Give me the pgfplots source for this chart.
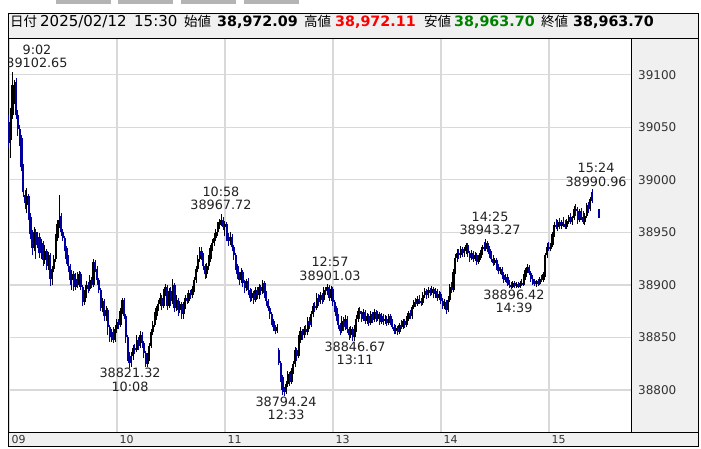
\documentclass[border=0pt]{standalone}
\usepackage{fontspec}
\setmainfont{DejaVu Sans}
\newfontfamily\jp{Noto Sans CJK JP}
\usepackage{pgfplots}
\pgfplotsset{compat=1.18}
\usepackage{pgfplotstable}

\definecolor{candown}{RGB}{0,0,160}
\definecolor{panel}{RGB}{240,240,240}
\definecolor{gridc}{RGB}{217,217,217}
\definecolor{tabc}{RGB}{180,180,180}
\definecolor{hired}{RGB}{255,0,0}
\definecolor{logreen}{RGB}{0,128,0}
\definecolor{tickc}{RGB}{51,51,51}

\tikzset{annot/.style={align=center, inner sep=0pt, text=black!87,
    font=\fontsize{12.8}{13.5}\selectfont}}

% 1-minute bars, t = trading minutes after 9:00 (lunch removed)
\pgfplotstableread{
t o h l c
0 39055 39062 39030 39035
1 39038 39068 39021 39062
2 39062 39102.65 39058 39090
3 39080 39095 39072 39088
4 39093 39097 39058 39062
5 39062 39066 39042 39048
6 39048 39052 39032 39040
7 39040 39043 39008 39012
8 39012 39015 38984 38988
9 38986 38990 38972 38978
10 38976 38992 38968 38985
11 38985 38987 38962 38965
12 38965 38968 38944 38948
13 38948 38952 38928 38935
14 38935 38955 38932 38950
15 38950 38953 38925 38938
16 38938 38950 38935 38946
17 38946 38949 38926 38930
18 38930 38944 38925 38940
19 38940 38942 38918 38924
20 38924 38938 38920 38932
21 38932 38934 38914 38918
22 38918 38931 38914 38928
23 38928 38930 38899 38906
24 38906 38918 38900 38915
25 38915 38928 38912 38925
26 38925 38948 38922 38945
27 38945 38962 38942 38958
28 38958 38986 38954 38962
29 38966 38968 38947 38950
30 38950 38953 38942 38945
31 38945 38947 38932 38935
32 38935 38937 38920 38925
33 38925 38928 38912 38918
34 38918 38920 38900 38905
35 38905 38914 38895 38910
36 38910 38913 38894 38898
37 38898 38911 38895 38906
38 38906 38912 38897 38900
39 38900 38913 38898 38910
40 38910 38912 38895 38898
41 38898 38900 38880 38884
42 38884 38895 38881 38892
43 38892 38904 38888 38900
44 38900 38903 38892 38896
45 38896 38909 38894 38905
46 38905 38908 38897 38900
47 38900 38925 38898 38922
48 38922 38924 38912 38915
49 38915 38918 38900 38905
50 38905 38907 38892 38895
51 38895 38897 38875 38878
52 38878 38888 38874 38885
53 38885 38887 38866 38870
54 38870 38880 38866 38876
55 38876 38878 38852 38860
56 38860 38862 38846 38850
57 38850 38858 38846 38855
58 38855 38860 38845 38848
59 38848 38862 38846 38858
60 38858 38868 38854 38865
61 38865 38868 38858 38862
62 38862 38878 38860 38875
63 38875 38888 38872 38886
64 38886 38888 38868 38870
65 38870 38872 38845 38850
66 38850 38852 38828 38832
67 38832 38836 38821.32 38826
68 38826 38836 38822 38832
69 38832 38843 38829 38840
70 38840 38844 38834 38838
71 38838 38852 38836 38848
72 38848 38850 38838 38842
73 38842 38856 38840 38852
74 38852 38855 38840 38845
75 38845 38847 38830 38835
76 38835 38837 38822 38825
77 38825 38835 38822 38832
78 38832 38845 38828 38842
79 38842 38858 38840 38855
80 38855 38866 38852 38862
81 38862 38874 38860 38870
82 38870 38880 38867 38878
83 38878 38886 38875 38882
84 38882 38892 38880 38888
85 38888 38890 38876 38880
86 38880 38896 38878 38892
87 38892 38901 38889 38898
88 38898 38900 38876 38880
89 38880 38897 38878 38894
90 38894 38898 38880 38885
91 38885 38906 38882 38900
92 38900 38902 38874 38878
93 38878 38890 38875 38886
94 38886 38888 38870 38876
95 38876 38885 38873 38882
96 38882 38884 38868 38872
97 38872 38884 38868 38880
98 38880 38890 38877 38888
99 38888 38892 38882 38885
100 38885 38895 38883 38892
101 38892 38895 38887 38890
102 38890 38899 38888 38896
103 38896 38908 38893 38905
104 38905 38918 38902 38915
105 38915 38928 38912 38925
106 38925 38936 38922 38932
107 38932 38936 38924 38928
108 38928 38930 38914 38918
109 38918 38920 38906 38910
110 38910 38921 38907 38918
111 38918 38928 38914 38925
112 38925 38938 38922 38935
113 38935 38944 38932 38940
114 38940 38949 38937 38945
115 38945 38953 38942 38950
116 38950 38960 38947 38957
117 38957 38963 38953 38960
118 38960 38967.72 38956 38962
119 38962 38965 38952 38955
120 38955 38961 38947 38958
121 38958 38960 38942 38946
122 38946 38949 38937 38942
123 38942 38950 38938 38946
124 38946 38948 38932 38936
125 38936 38938 38924 38928
126 38928 38930 38914 38918
127 38918 38920 38906 38910
128 38910 38912 38900 38905
129 38905 38916 38902 38912
130 38912 38914 38898 38902
131 38902 38905 38892 38897
132 38897 38906 38894 38904
133 38904 38907 38890 38895
134 38895 38897 38884 38888
135 38888 38896 38885 38892
136 38892 38894 38882 38886
137 38886 38898 38884 38895
138 38895 38898 38887 38890
139 38890 38901 38887 38898
140 38898 38900 38890 38894
141 38894 38905 38891 38902
142 38902 38904 38888 38892
143 38892 38894 38880 38885
144 38885 38887 38875 38878
145 38878 38880 38868 38872
146 38872 38874 38862 38866
147 38866 38868 38856 38860
148 38860 38862 38853 38856
149 38856 38863 38854 38860
150 38838 38840 38824 38826
151 38826 38828 38808 38812
152 38812 38814 38795 38800
153 38800 38803 38794.24 38798
154 38798 38809 38796 38806
155 38806 38818 38803 38815
156 38815 38817 38804 38808
157 38808 38821 38806 38818
158 38818 38828 38815 38825
159 38825 38841 38822 38838
160 38838 38840 38828 38832
161 38832 38852 38830 38848
162 38848 38860 38845 38856
163 38856 38858 38848 38852
164 38852 38861 38849 38858
165 38858 38862 38852 38855
166 38855 38869 38852 38866
167 38866 38869 38858 38862
168 38862 38875 38860 38872
169 38872 38883 38869 38880
170 38880 38884 38874 38878
171 38878 38892 38876 38888
172 38888 38891 38880 38884
173 38884 38893 38882 38890
174 38890 38892 38882 38886
175 38886 38898 38884 38895
176 38895 38898 38890 38894
177 38894 38901.03 38890 38898
178 38898 38900 38885 38888
179 38888 38899 38885 38896
180 38896 38898 38880 38884
181 38884 38886 38874 38878
182 38878 38880 38866 38870
183 38870 38872 38858 38862
184 38862 38864 38852 38856
185 38856 38870 38854 38866
186 38866 38869 38856 38860
187 38860 38871 38857 38868
188 38868 38870 38854 38858
189 38858 38860 38848 38852
190 38852 38861 38849 38858
191 38858 38860 38846.67 38850
192 38850 38862 38847 38858
193 38858 38871 38855 38868
194 38868 38878 38865 38875
195 38875 38879 38868 38872
196 38872 38875 38865 38868
197 38868 38877 38866 38874
198 38874 38876 38863 38866
199 38866 38873 38863 38870
200 38870 38872 38861 38864
201 38864 38875 38862 38872
202 38872 38874 38864 38867
203 38867 38877 38865 38874
204 38874 38876 38865 38868
205 38868 38875 38866 38872
206 38872 38874 38862 38865
207 38865 38873 38863 38870
208 38870 38872 38862 38866
209 38866 38871 38863 38868
210 38868 38870 38861 38864
211 38864 38872 38862 38870
212 38870 38872 38862 38865
213 38865 38868 38858 38860
214 38860 38863 38853 38856
215 38856 38862 38853 38859
216 38859 38861 38852 38855
217 38855 38864 38853 38862
218 38862 38867 38858 38860
219 38860 38868 38858 38866
220 38866 38868 38859 38862
221 38862 38870 38860 38868
222 38868 38875 38866 38873
223 38873 38876 38868 38870
224 38870 38881 38868 38879
225 38879 38886 38877 38884
226 38884 38888 38879 38882
227 38882 38889 38880 38887
228 38887 38890 38882 38885
229 38885 38888 38880 38883
230 38883 38893 38881 38890
231 38890 38897 38888 38894
232 38894 38896 38887 38890
233 38890 38898 38888 38895
234 38895 38897 38889 38892
235 38892 38899 38890 38896
236 38896 38898 38888 38891
237 38891 38897 38888 38894
238 38894 38896 38885 38888
239 38888 38894 38886 38891
240 38891 38893 38882 38885
241 38885 38888 38877 38880
242 38880 38887 38877 38884
243 38884 38886 38872 38876
244 38876 38889 38874 38886
245 38886 38901 38884 38898
246 38898 38903 38892 38895
247 38895 38915 38893 38912
248 38912 38929 38910 38926
249 38926 38934 38922 38930
250 38930 38934 38925 38928
251 38928 38937 38926 38934
252 38934 38936 38927 38930
253 38930 38936 38927 38932
254 38932 38940 38929 38938
255 38938 38940 38927 38930
256 38930 38932 38922 38926
257 38926 38933 38924 38930
258 38930 38932 38922 38925
259 38925 38931 38923 38928
260 38928 38930 38919 38922
261 38922 38928 38920 38926
262 38926 38933 38924 38930
263 38930 38938 38928 38936
264 38936 38941 38932 38934
265 38934 38943.27 38932 38940
266 38940 38942 38931 38934
267 38934 38937 38926 38929
268 38929 38932 38922 38925
269 38925 38928 38918 38921
270 38921 38926 38919 38924
271 38924 38926 38914 38917
272 38917 38920 38910 38913
273 38913 38917 38910 38915
274 38915 38917 38906 38909
275 38909 38912 38902 38905
276 38905 38910 38903 38908
277 38908 38910 38899 38902
278 38902 38905 38897 38900
279 38900 38903 38896.42 38898
280 38898 38904 38897 38902
281 38902 38904 38897 38899
282 38899 38903 38897 38901
283 38901 38903 38897 38898
284 38898 38904 38897 38902
285 38902 38906 38899 38900
286 38900 38910 38899 38908
287 38908 38916 38905 38914
288 38914 38920 38911 38917
289 38917 38919 38909 38911
290 38911 38913 38903 38906
291 38906 38909 38900 38903
292 38903 38906 38899 38901
293 38901 38905 38898 38904
294 38904 38906 38899 38901
295 38901 38908 38900 38906
296 38906 38909 38903 38905
297 38905 38912 38903 38910
298 38910 38930 38908 38928
299 38928 38940 38926 38936
300 38936 38941 38932 38934
301 38934 38940 38932 38938
302 38938 38950 38936 38948
303 38948 38960 38946 38957
304 38957 38963 38953 38955
305 38955 38962 38951 38960
306 38960 38964 38953 38956
307 38956 38962 38953 38960
308 38960 38965 38955 38958
309 38958 38962 38953 38955
310 38955 38963 38953 38961
311 38961 38967 38958 38965
312 38965 38968 38958 38960
313 38960 38966 38957 38964
314 38964 38975 38962 38972
315 38972 38977 38966 38970
316 38970 38974 38958 38962
317 38962 38972 38960 38970
318 38970 38973 38962 38965
319 38965 38970 38958 38960
320 38960 38968 38957 38966
321 38966 38978 38964 38976
322 38976 38979 38968 38972
323 38972 38984 38970 38982
324 38988 38990.96 38978 38980
328 38972.09 38972.11 38963.70 38963.70
}\bars

\begin{document}
\begin{tikzpicture}
\useasboundingbox (0pt,0pt) rectangle (701pt,448pt);
% tabs at the top edge
\foreach \a/\b in {56/111,118/173,181/236,244/299}
  \fill[tabc] (\a pt,444pt) rectangle (\b pt,448pt);
% header, right scale panel, bottom time bar
\filldraw[fill=panel, draw=black, line width=0.8pt] (8pt,410pt) rectangle (698pt,435pt);
\filldraw[fill=panel, draw=black, line width=0.8pt] (631pt,16pt) rectangle (698pt,410pt);
\filldraw[fill=panel, draw=black, line width=0.8pt] (8pt,2pt) rectangle (698pt,16pt);
% header text
\begin{scope}[every node/.style={anchor=base west, inner sep=0pt}]
\node[font=\jp\fontsize{13.5}{14}\selectfont] at (9.8pt,421pt) {日付};
\node[font=\fontsize{15}{15}\selectfont] at (40pt,421pt) {2025/02/12};
\node[font=\fontsize{15}{15}\selectfont] at (134pt,421pt) {15:30};
\node[font=\jp\fontsize{13.5}{14}\selectfont] at (184pt,421pt) {始値};
\node[font=\bfseries\fontsize{14.3}{15}\selectfont] at (217pt,421pt) {38,972.09};
\node[font=\jp\fontsize{13.5}{14}\selectfont] at (304pt,421pt) {高値};
\node[font=\bfseries\fontsize{14.3}{15}\selectfont, text=hired] at (335pt,421pt) {38,972.11};
\node[font=\jp\fontsize{13.5}{14}\selectfont] at (424pt,421pt) {安値};
\node[font=\bfseries\fontsize{14.3}{15}\selectfont, text=logreen] at (454pt,421pt) {38,963.70};
\node[font=\jp\fontsize{13.5}{14}\selectfont] at (541pt,421pt) {終値};
\node[font=\bfseries\fontsize{14.3}{15}\selectfont] at (573pt,421pt) {38,963.70};
\end{scope}

\begin{axis}[
  at={(8pt,16pt)}, anchor=south west,
  scale only axis, width=623pt, height=394pt,
  xmin=-0.5, xmax=345.6, ymin=38760, ymax=39135,
  xtick={0,60,120,180,240,300},
  xticklabels={09,10,11,13,14,15},
  ytick={38800,38850,...,39100},
  scaled y ticks=false,
  grid=major,
  major grid style={draw=gridc, line width=1.3pt},
  axis line style={draw=black, line width=0.8pt},
  major tick length=0pt, tick style={draw=none},
  yticklabel pos=right,
  yticklabel style={anchor=west, inner sep=0pt, xshift=7pt,
    font=\fontsize{12}{12}\selectfont, text=tickc,
    /pgf/number format/fixed, /pgf/number format/precision=0},
  xticklabel style={anchor=north west, inner sep=0pt, xshift=2.5pt, yshift=-3pt,
    font=\fontsize{11}{11}\selectfont, text=tickc},
  /pgf/number format/assume math mode=true,
  /pgf/number format/set thousands separator={},
]
% up bars: black
\addplot[draw=none, restrict expr to domain={\thisrow{c}-\thisrow{o}}{0:10000},
  error bars/.cd, y dir=plus, y explicit, error mark=none,
  error bar style={draw=black, line width=1pt}]
  table[x=t, y=l, y error expr=\thisrow{h}-\thisrow{l}] {\bars};
\addplot[draw=none, restrict expr to domain={\thisrow{c}-\thisrow{o}}{0:10000},
  error bars/.cd, y dir=plus, y explicit, error mark=none,
  error bar style={draw=black, line width=2.2pt}]
  table[x=t, y=o, y error expr=\thisrow{c}-\thisrow{o}] {\bars};
% down bars: blue
\addplot[draw=none, restrict expr to domain={\thisrow{c}-\thisrow{o}}{-10000:-0.001},
  error bars/.cd, y dir=plus, y explicit, error mark=none,
  error bar style={draw=candown, line width=1pt}]
  table[x=t, y=l, y error expr=\thisrow{h}-\thisrow{l}] {\bars};
\addplot[draw=none, restrict expr to domain={\thisrow{c}-\thisrow{o}}{-10000:-0.001},
  error bars/.cd, y dir=plus, y explicit, error mark=none,
  error bar style={draw=candown, line width=2.2pt}]
  table[x=t, y=c, y error expr=\thisrow{o}-\thisrow{c}] {\bars};

\node[annot] at (axis cs:15.6,39117.4) {9:02\\39102.65};
\node[annot] at (axis cs:117.8,38982.2) {10:58\\38967.72};
\node[annot] at (axis cs:67.3,38809.5) {38821.32\\10:08};
\node[annot] at (axis cs:154,38782.4) {38794.24\\12:33};
\node[annot] at (axis cs:178.4,38915.1) {12:57\\38901.03};
\node[annot] at (axis cs:192.3,38834.7) {38846.67\\13:11};
\node[annot] at (axis cs:267.3,38958.5) {14:25\\38943.27};
\node[annot] at (axis cs:280.6,38884.2) {38896.42\\14:39};
\node[annot] at (axis cs:326.2,39004.6) {15:24\\38990.96};
\end{axis}
\end{tikzpicture}
\end{document}
